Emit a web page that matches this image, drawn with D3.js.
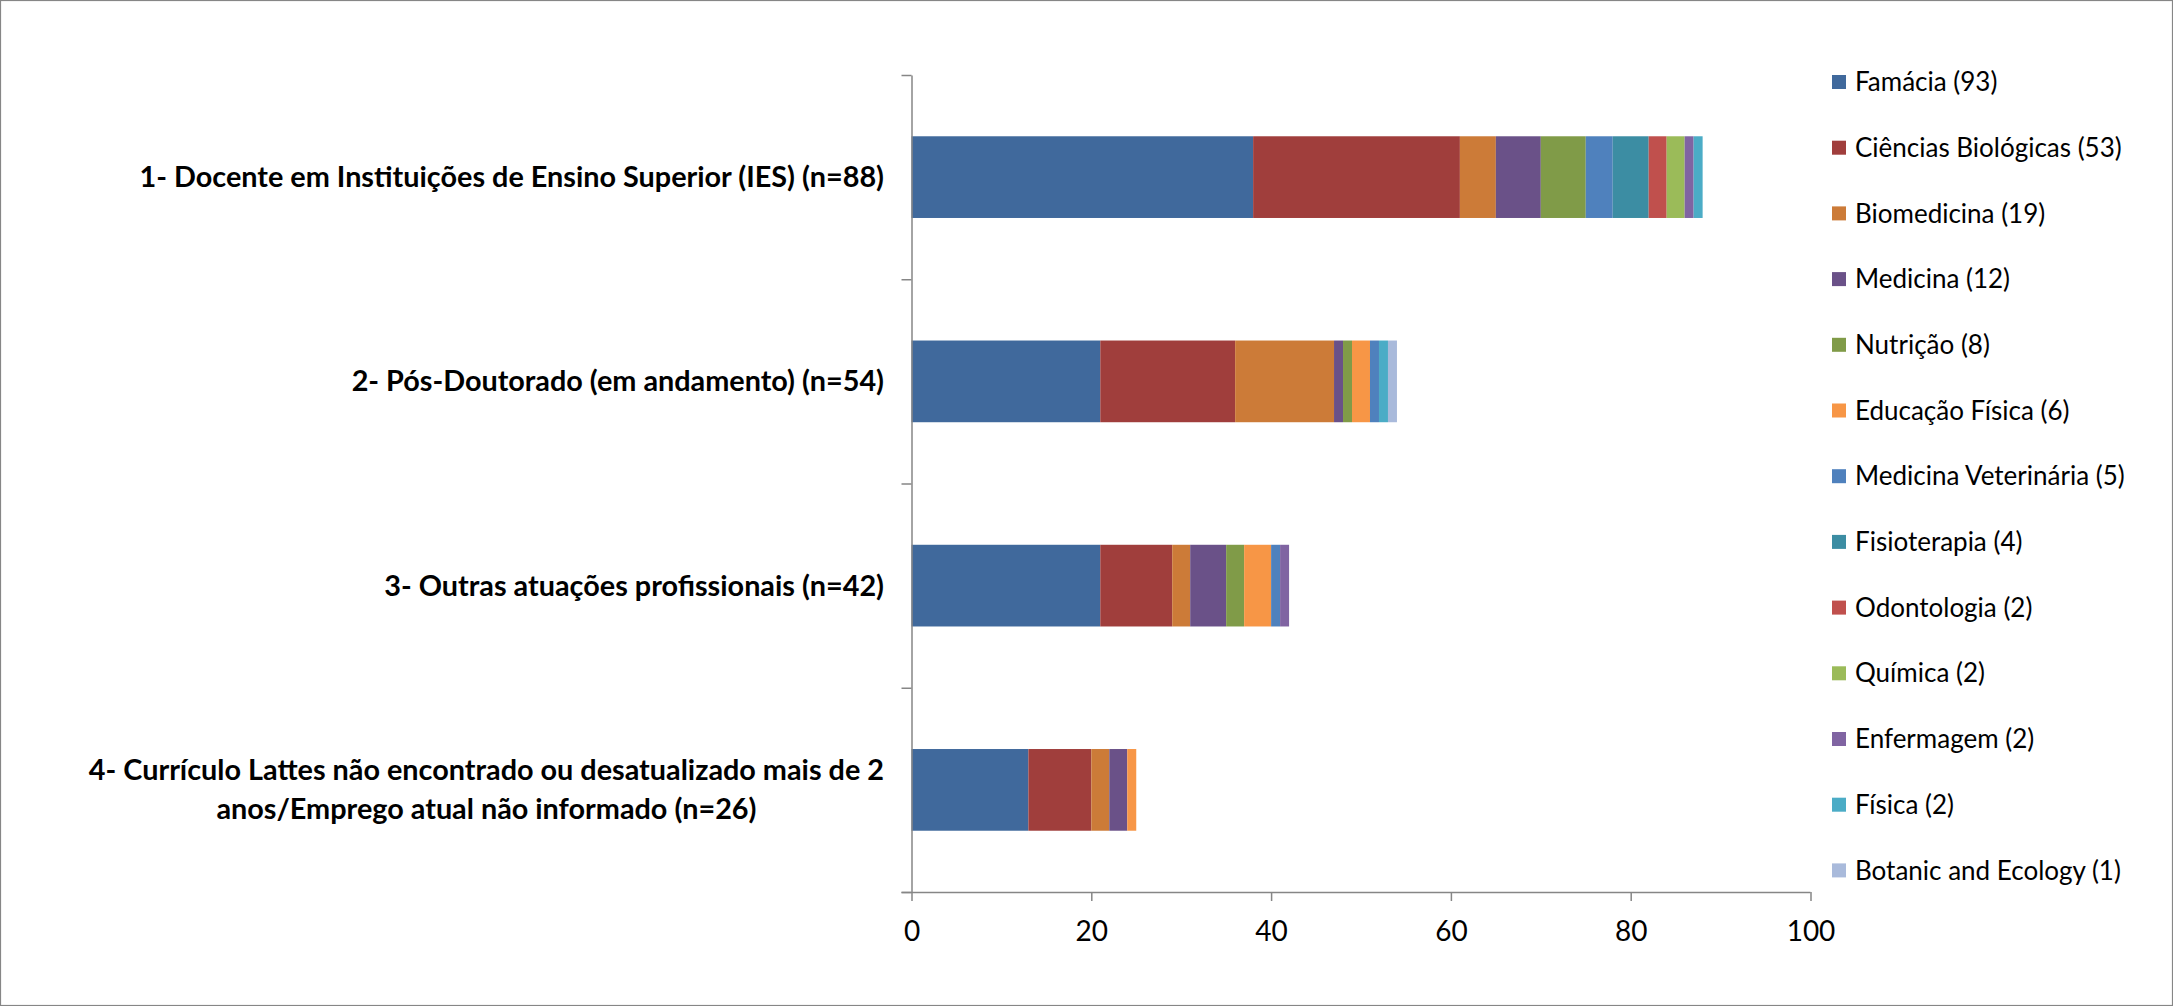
<!DOCTYPE html>
<html><head><meta charset="utf-8">
<script src="https://cdn.jsdelivr.net/npm/d3@7"></script>
<style>body{margin:0;background:#fff;overflow:hidden}</style>
</head><body><svg id="c" width="2173" height="1006"></svg>
<script>
// ---- data ----
const categories = [
  "1- Docente em Instituições de Ensino Superior (IES) (n=88)",
  "2- Pós-Doutorado (em andamento) (n=54)",
  "3- Outras atuações profissionais (n=42)",
  "4- Currículo Lattes não encontrado ou desatualizado mais de 2\nanos/Emprego atual não informado (n=26)"
];
const seriesNames = [
  "Famácia (93)", "Ciências Biológicas (53)", "Biomedicina (19)", "Medicina (12)",
  "Nutrição (8)", "Educação Física (6)", "Medicina Veterinária (5)", "Fisioterapia (4)",
  "Odontologia (2)", "Química (2)", "Enfermagem (2)", "Física (2)", "Botanic and Ecology (1)"
];
const seriesColors = ["#40699C","#A03E3C","#CC7B38","#6A5188","#809B48","#F79646","#4F81BD",
  "#3C8DA3","#C0504D","#9BBB59","#8064A2","#4BACC6","#A9BADB"];
const famacia      = [38, 21, 21, 13];
const cienciasBio  = [23, 15, 8, 7];
const biomedicina  = [4, 11, 2, 2];
const medicina     = [5, 1, 4, 2];
const nutricao     = [5, 1, 2, 0];
const edFisica     = [0, 2, 3, 1];
const medVet       = [3, 1, 1, 0];
const fisioterapia = [4, 0, 0, 0];
const odontologia  = [2, 0, 0, 0];
const quimica      = [2, 0, 0, 0];
const enfermagem   = [1, 0, 1, 0];
const fisica       = [1, 1, 0, 0];
const botanic      = [0, 1, 0, 0];
const xTicks = [0, 20, 40, 60, 80, 100];

const seriesValues = [famacia, cienciasBio, biomedicina, medicina, nutricao, edFisica, medVet,
  fisioterapia, odontologia, quimica, enfermagem, fisica, botanic];

// ---- build table ----
const table = categories.map((c, i) => {
  const row = {cat: c};
  seriesNames.forEach((s, j) => row[s] = seriesValues[j][i]);
  return row;
});
const stacked = d3.stack().keys(seriesNames)(table);

const svg = d3.select("#c");
const W = 2173, H = 1006;
const FONT = "Lato, 'Open Sans', sans-serif";
const grey = "#868686";

svg.append("rect").attr("x", 0.5).attr("y", 0.5).attr("width", W - 1).attr("height", H - 1)
  .attr("fill", "#fff").attr("stroke", grey).attr("stroke-width", 1.2);

const x = d3.scaleLinear().domain([0, 100]).range([911.5, 1810.5]);
const y = d3.scaleBand().domain(categories).range([75, 892]).paddingInner(0.6).paddingOuter(0.3);
const color = d3.scaleOrdinal().domain(seriesNames).range(seriesColors);

// bars
svg.append("g").selectAll("g").data(stacked).join("g")
  .attr("fill", d => color(d.key))
  .selectAll("rect").data(d => d).join("rect")
  .attr("x", d => x(d[0]))
  .attr("y", d => y(d.data.cat))
  .attr("width", d => Math.max(0, x(d[1]) - x(d[0])))
  .attr("height", y.bandwidth());

// y axis (category boundaries)
const yb = d3.scaleLinear().domain([0, categories.length]).range([75, 892]);
const yAxis = svg.append("g").attr("transform", `translate(${x(0)},0)`)
  .call(d3.axisLeft(yb).tickValues(d3.range(categories.length + 1)).tickFormat("").tickSize(10).tickSizeOuter(0));
yAxis.selectAll("path,line").attr("stroke", grey).attr("stroke-width", 1.5);

// x axis
const xAxis = svg.append("g").attr("transform", `translate(0,892)`)
  .call(d3.axisBottom(x).tickValues(xTicks).tickSize(9).tickSizeOuter(0).tickPadding(20));
xAxis.select(".domain").attr("stroke", grey).attr("stroke-width", 1.5);
xAxis.selectAll(".tick line").attr("stroke", grey).attr("stroke-width", 1.5);
xAxis.selectAll(".tick text").attr("font-family", FONT).attr("font-size", 28).attr("fill", "#000");
xAxis.select(".domain").attr("d", `M${x(0) - 10},0.5H${x(100)}`);

// category labels
const labels = svg.append("g").attr("font-family", FONT).attr("font-weight", "bold")
  .attr("font-size", 28.8).attr("fill", "#000");
categories.forEach(c => {
  const lines = c.split("\n");
  const cy = y(c) + y.bandwidth() / 2;
  const lh = 39;
  const t0 = labels.append("text").attr("x", 884).attr("text-anchor", "end")
    .attr("y", cy - (lines.length - 1) * lh / 2).attr("dy", "0.35em").text(lines[0]);
  if (lines.length > 1) {
    const w0 = t0.node().getComputedTextLength();
    lines.slice(1).forEach((ln, k) => {
      labels.append("text").attr("x", 884 - w0 / 2).attr("text-anchor", "middle")
        .attr("y", cy - (lines.length - 1) * lh / 2 + (k + 1) * lh).attr("dy", "0.35em").text(ln);
    });
  }
});

// legend
const leg = svg.append("g").attr("font-family", FONT).attr("font-size", 26);
seriesNames.forEach((s, i) => {
  const cy = 82 + i * 65.7;
  leg.append("rect").attr("x", 1832).attr("y", cy - 7).attr("width", 14).attr("height", 14).attr("fill", color(s));
  leg.append("text").attr("x", 1855).attr("y", cy).attr("dy", "0.35em").attr("fill", "#000").text(s);
});
</script>
</body></html>
